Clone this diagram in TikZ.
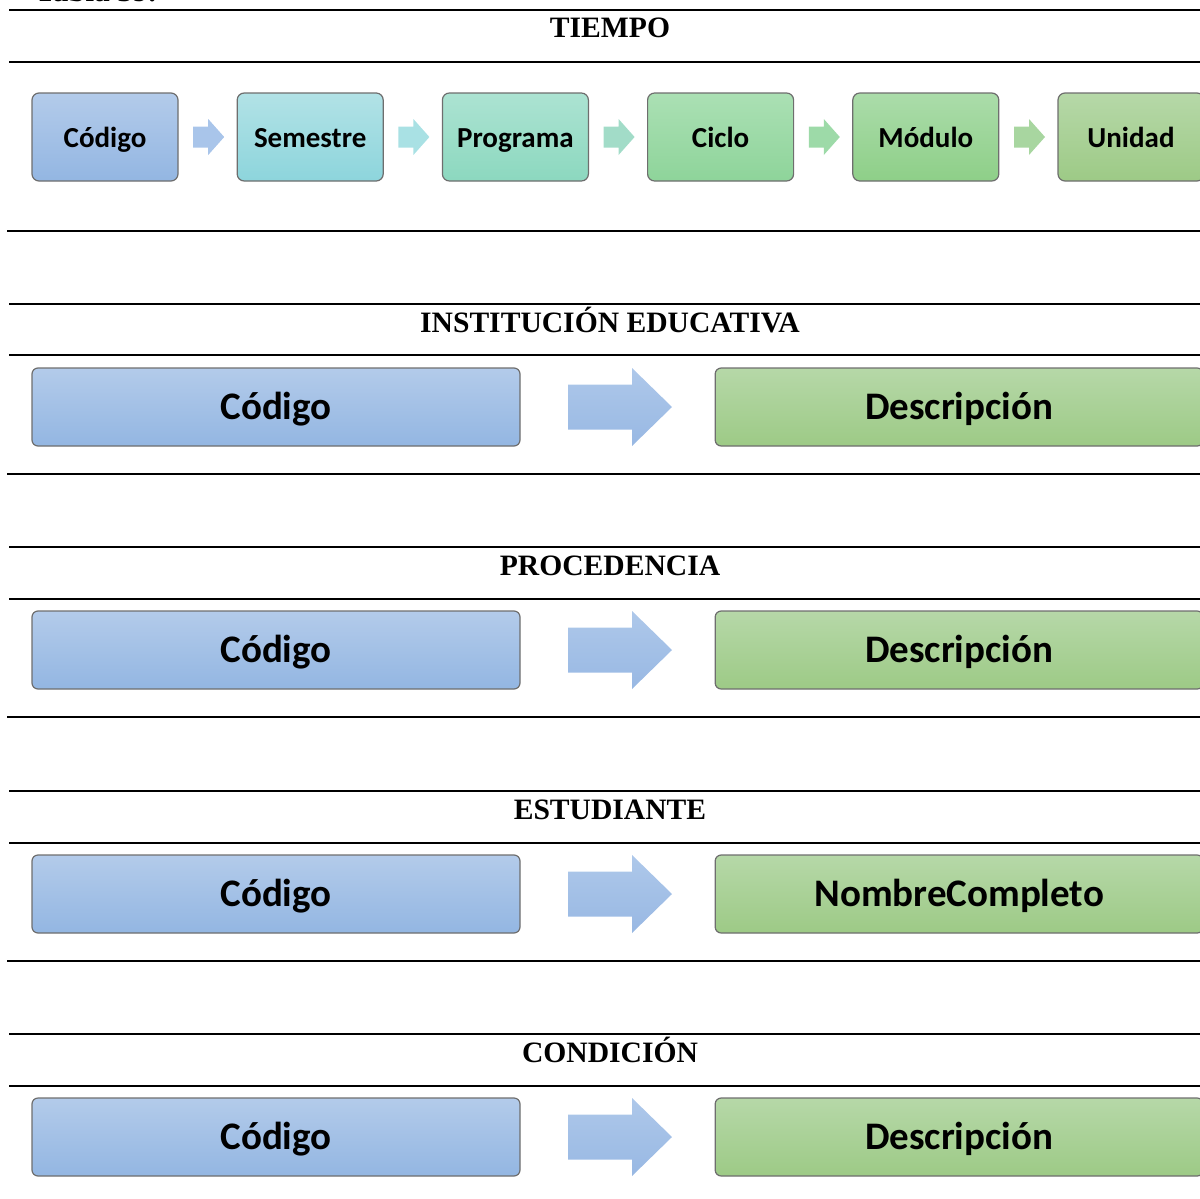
\documentclass[tikz,border=0pt]{standalone}
\usepackage{fontspec}
\setmainfont{Liberation Serif}
\newfontfamily\calibri{Carlito}
\usetikzlibrary{positioning}

\definecolor{bordeCaja}{HTML}{6E6E6E}
\definecolor{azulA}{HTML}{B3CBEA}
\definecolor{azulB}{HTML}{93B6E2}
\definecolor{turqA}{HTML}{B2E2E6}
\definecolor{turqB}{HTML}{8DD5DC}
\definecolor{mentaA}{HTML}{ACE3D2}
\definecolor{mentaB}{HTML}{8CD8BF}
\definecolor{verdeA}{HTML}{ABE0B4}
\definecolor{verdeB}{HTML}{8ED49A}
\definecolor{pastoA}{HTML}{ABDCAA}
\definecolor{pastoB}{HTML}{8ECF88}
\definecolor{olivaA}{HTML}{B6D8A8}
\definecolor{olivaB}{HTML}{9DCA86}
\definecolor{flechaA}{HTML}{A9C5EA}
\definecolor{flechaB}{HTML}{A9E1E4}
\definecolor{flechaC}{HTML}{A2DCC8}
\definecolor{flechaD}{HTML}{9DDAA8}
\definecolor{flechaE}{HTML}{A8D6A0}
\definecolor{flechaGA}{HTML}{AEC8EA}
\definecolor{flechaGB}{HTML}{98B8E3}

\tikzset{
  caja/.style={draw=bordeCaja, line width=0.6pt, rounded corners=3.5pt,
    minimum width=73pt, minimum height=44pt, inner sep=0pt,
    text height=1.05em, text depth=0.02em,
    font=\calibri\bfseries\fontsize{14.5}{16}\selectfont},
  cajagrande/.style={caja, rounded corners=3pt, minimum width=244pt,
    minimum height=39pt, text height=1.24em,
    font=\calibri\bfseries\fontsize{19.5}{22}\selectfont},
  cajaazul/.style={cajagrande, top color=azulA, bottom color=azulB},
  cajaverde/.style={cajagrande, top color=olivaA, bottom color=olivaB},
  titulo/.style={anchor=base, font=\bfseries\fontsize{14.8}{16}\selectfont},
  raya/.style={line width=1.2pt},
  pics/flechachica/.style={code={
    \fill[#1] (0,-5.25pt) -- (7.5pt,-5.25pt) -- (7.5pt,-9pt) -- (15.5pt,0pt)
      -- (7.5pt,9pt) -- (7.5pt,5.25pt) -- (0,5.25pt) -- cycle;}},
  pics/flechagrande/.style={code={
    \shade[top color=flechaGA, bottom color=flechaGB] (0,-11.25pt) -- (32pt,-11.25pt)
      -- (32pt,-19.5pt) -- (52pt,0pt) -- (32pt,19.5pt) -- (32pt,11.25pt)
      -- (0,11.25pt) -- cycle;}}
}

\begin{document}
\begin{tikzpicture}[x=0.5pt, y=-0.5pt]
  \useasboundingbox (0,0) rectangle (1200,1199);
  \clip (0,0) rectangle (1200,1199);
  \node[anchor=base west, font=\bfseries\fontsize{15.5}{17}\selectfont] (tabla) at (28,2) {Tabla 39.};

  % tiempo
  \draw[raya] (9,10) -- (1205,10);
  \node[titulo] (tTiempo) at (610,38) {TIEMPO};
  \draw[raya] (9,62) -- (1205,62);
  \node[caja, top color=azulA, bottom color=azulB] (cod) at (105,137) {Código};
  \node[caja, top color=turqA, bottom color=turqB, right=29pt of cod] (sem) {Semestre};
  \node[caja, top color=mentaA, bottom color=mentaB, right=29pt of sem] (prog) {Programa};
  \node[caja, top color=verdeA, bottom color=verdeB, right=29pt of prog] (cic) {Ciclo};
  \node[caja, top color=pastoA, bottom color=pastoB, right=29pt of cic] (mod) {Módulo};
  \node[caja, top color=olivaA, bottom color=olivaB, right=29pt of mod] (uni) {Unidad};
  \pic at ([xshift=7.3pt]cod.east) {flechachica=flechaA};
  \pic at ([xshift=7.3pt]sem.east) {flechachica=flechaB};
  \pic at ([xshift=7.3pt]prog.east) {flechachica=flechaC};
  \pic at ([xshift=7.3pt]cic.east) {flechachica=flechaD};
  \pic at ([xshift=7.3pt]mod.east) {flechachica=flechaE};
  \draw[raya] (7,231) -- (1205,231);

  % institucion educativa
  \draw[raya] (9,304) -- (1205,304);
  \node[titulo] (tInst) at (610,332) {INSTITUCIÓN EDUCATIVA};
  \draw[raya] (9,355) -- (1205,355);
  \node[cajaazul] (codIE) at (276,407) {Código};
  \node[cajaverde, right=97pt of codIE] (desIE) {Descripción};
  \pic at ([xshift=23.7pt]codIE.east) {flechagrande};
  \draw[raya] (7,474) -- (1205,474);

  % procedencia
  \draw[raya] (9,547) -- (1205,547);
  \node[titulo] (tProc) at (610,575) {PROCEDENCIA};
  \draw[raya] (9,599) -- (1205,599);
  \node[cajaazul] (codPro) at (276,650) {Código};
  \node[cajaverde, right=97pt of codPro] (desPro) {Descripción};
  \pic at ([xshift=23.7pt]codPro.east) {flechagrande};
  \draw[raya] (7,717) -- (1205,717);

  % estudiante
  \draw[raya] (9,791) -- (1205,791);
  \node[titulo] (tEst) at (610,819) {ESTUDIANTE};
  \draw[raya] (9,843) -- (1205,843);
  \node[cajaazul] (codEst) at (276,894) {Código};
  \node[cajaverde, right=97pt of codEst] (nomEst) {NombreCompleto};
  \pic at ([xshift=23.7pt]codEst.east) {flechagrande};
  \draw[raya] (7,961) -- (1205,961);

  % condicion
  \draw[raya] (9,1034) -- (1205,1034);
  \node[titulo] (tCond) at (610,1062) {CONDICIÓN};
  \draw[raya] (9,1086) -- (1205,1086);
  \node[cajaazul] (codCon) at (276,1137) {Código};
  \node[cajaverde, right=97pt of codCon] (desCon) {Descripción};
  \pic at ([xshift=23.7pt]codCon.east) {flechagrande};
\end{tikzpicture}
\end{document}
